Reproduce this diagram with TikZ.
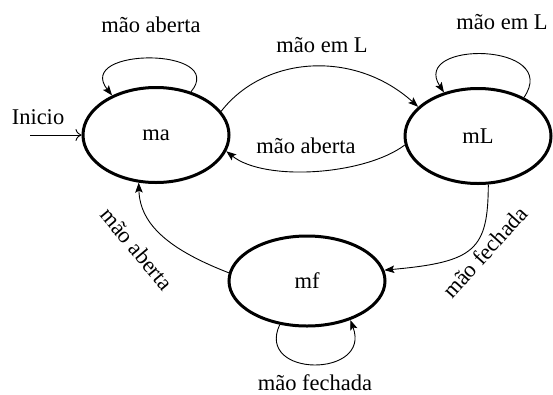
\documentclass[tikz,border=0pt]{standalone}
\usepackage{fontspec}
\setmainfont{Liberation Serif}
\usetikzlibrary{shapes.geometric,arrows.meta}
\begin{document}
\begin{tikzpicture}[x=1pt,y=-1pt,
  state/.style={draw,ellipse,line width=3pt,inner sep=0pt},
  edge/.style={line width=0.9pt,-{Stealth[length=10pt,width=7.5pt,inset=2pt]}},
  lbl/.style={inner sep=0pt,font=\fontsize{22.5}{25}\selectfont}]
\useasboundingbox (0,0) rectangle (553,394);
% states
\node[state,minimum width=146pt,minimum height=95pt,lbl] (ma) at (156,135) {ma};
\node[state,minimum width=146pt,minimum height=95pt,lbl] (mL) at (478,136) {mL};
\node[state,minimum width=156pt,minimum height=90pt,lbl] (mf) at (307,281) {mf};
% start arrow
\coordinate (start) at (30,135);
\node[lbl] (inicio) at (38,117) {Inicio};
\draw[line width=0.9pt,-{To[length=6pt,width=12pt]}] (start) -- (ma.west);
% transitions
\draw[edge] (ma.20) .. controls (265,55) and (355,50) .. (mL.154);
\draw[edge] (mL.187) .. controls (365,175) and (265,182) .. (ma.-13);
\draw[edge] (mL.-78) .. controls (488,250) and (475,262) .. (mf.8);
\draw[edge] (mf.174) .. controls (170,250) and (140,225) .. (ma.-110);
% self loops
\draw[edge] (ma.51) .. controls (228,47) and (74,47) .. (ma.138);
\draw[edge] (mL.40) .. controls (562,42) and (410,40) .. (mL.128);
\draw[edge] (mf.-122) .. controls (255,378) and (372,378) .. (mf.-42);
% labels
\node[lbl] (l1) at (151,25) {mão aberta};
\node[lbl] (l2) at (322,45) {mão em L};
\node[lbl] (l3) at (502,22) {mão em L};
\node[lbl] (l4) at (306,146) {mão aberta};
\node[lbl,rotate=-50] (l5) at (137,249) {mão aberta};
\node[lbl,rotate=48] (l6) at (485,252) {mão fechada};
\node[lbl,anchor=base] (l7) at (315,390) {mão fechada};
\end{tikzpicture}
\end{document}
